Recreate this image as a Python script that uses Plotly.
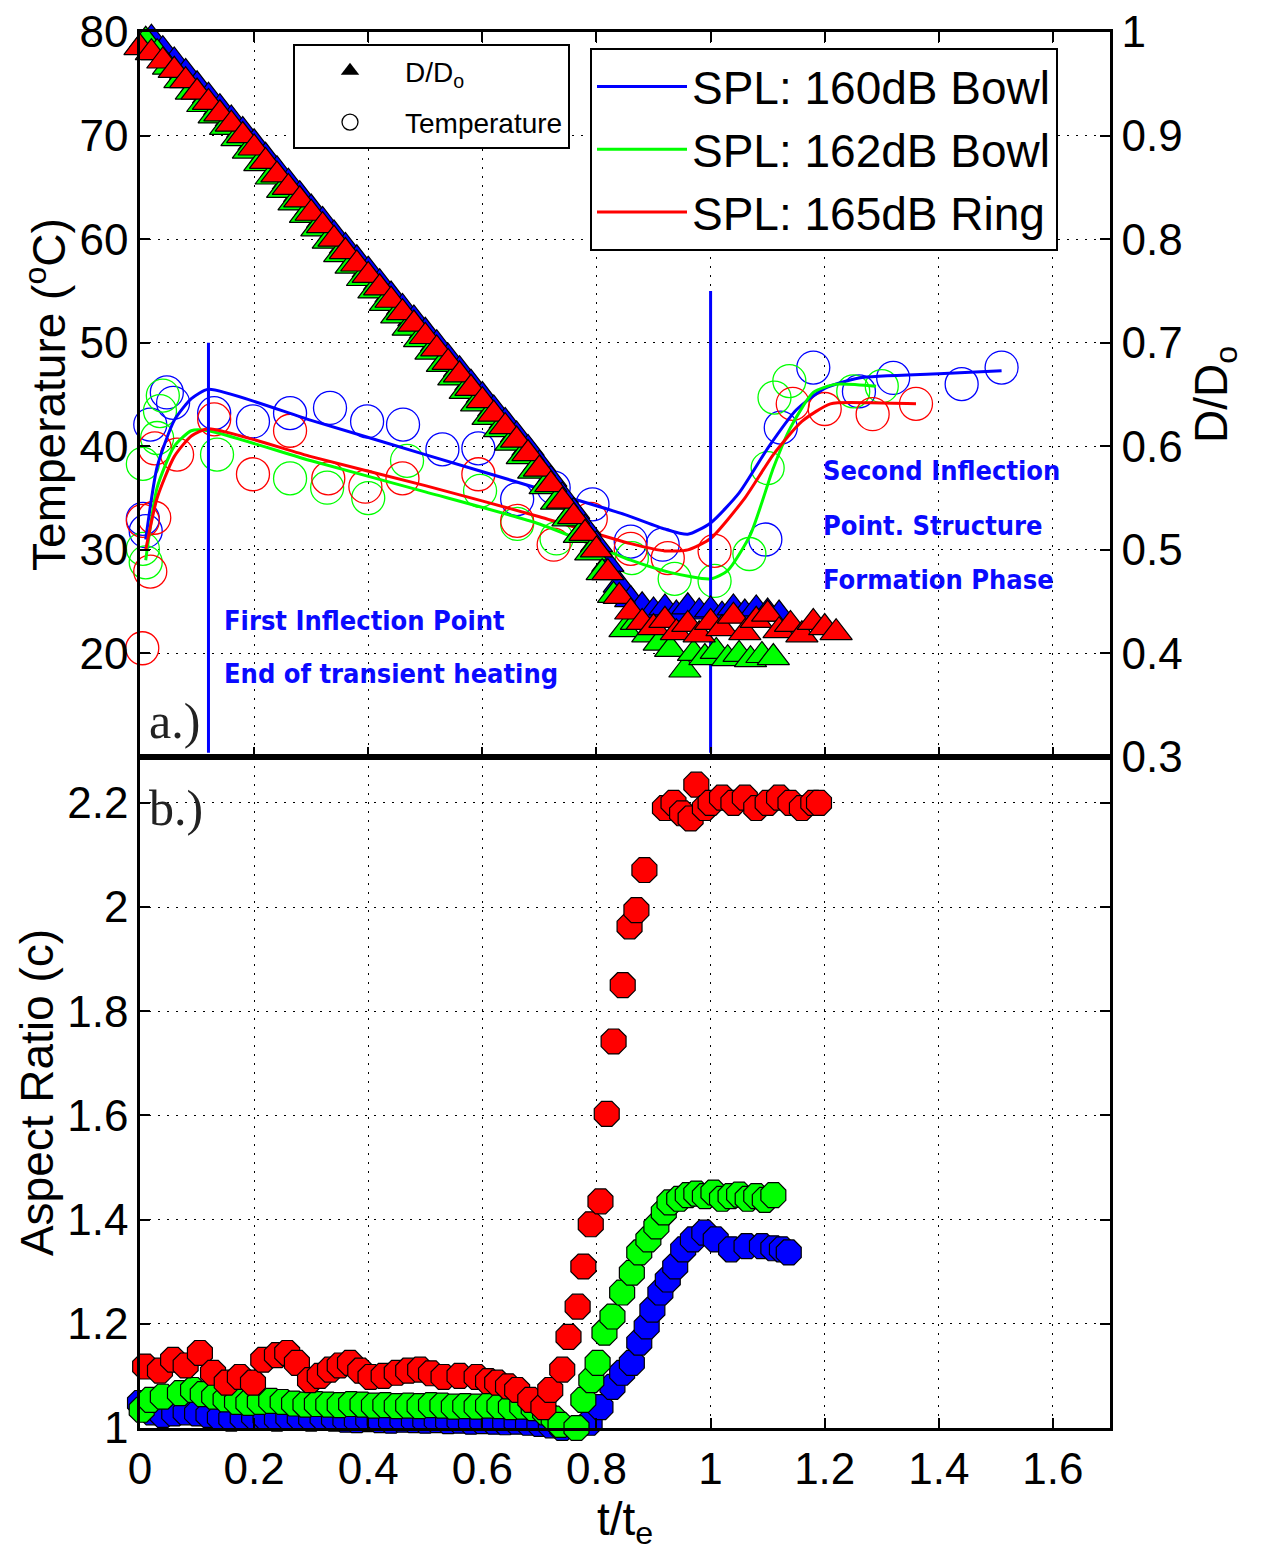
import plotly.graph_objects as go

# ---------------- D/D0 (triangles, right axis of panel a) ----------------
t_tri_blue = [0.00, 0.02, 0.04, 0.06, 0.08, 0.10, 0.12, 0.14, 0.16, 0.18,
              0.20, 0.22, 0.24, 0.26, 0.28, 0.30, 0.32, 0.34, 0.36, 0.38,
              0.40, 0.42, 0.44, 0.46, 0.48, 0.50, 0.52, 0.54, 0.56, 0.58,
              0.60, 0.62, 0.64, 0.66, 0.68, 0.70, 0.72, 0.74, 0.76, 0.78,
              0.80, 0.82, 0.84, 0.86,
              0.88, 0.90, 0.92, 0.94, 0.96, 0.98, 1.00, 1.02, 1.04, 1.06, 1.08, 1.10, 1.12]
d_tri_blue = [1.004, 0.994, 0.983, 0.972, 0.961, 0.949, 0.938, 0.927, 0.916, 0.905,
              0.893, 0.880, 0.867, 0.855, 0.843, 0.830, 0.818, 0.805, 0.793, 0.781,
              0.770, 0.758, 0.746, 0.734, 0.723, 0.711, 0.699, 0.686, 0.674, 0.661,
              0.649, 0.636, 0.624, 0.611, 0.598, 0.583, 0.568, 0.552, 0.537, 0.521,
              0.505, 0.486, 0.466, 0.452,
              0.446, 0.441, 0.444, 0.438, 0.445, 0.440, 0.442, 0.437, 0.444, 0.439, 0.443, 0.440, 0.438]

t_tri_green = [0.01, 0.03, 0.05, 0.07, 0.09, 0.11, 0.13, 0.15, 0.17, 0.19,
               0.21, 0.23, 0.25, 0.27, 0.29, 0.31, 0.33, 0.35, 0.37, 0.39,
               0.41, 0.43, 0.45, 0.47, 0.49, 0.51, 0.53, 0.55, 0.57, 0.59,
               0.61, 0.63, 0.65, 0.67, 0.69, 0.71, 0.73, 0.75, 0.77, 0.79,
               0.81, 0.83, 0.85,
               0.87, 0.89, 0.91, 0.93, 0.955, 0.97, 0.99, 1.01, 1.03, 1.05, 1.07, 1.09, 1.11]
d_tri_green = [0.992, 0.980, 0.966, 0.953, 0.942, 0.930, 0.919, 0.908, 0.897, 0.885,
               0.873, 0.860, 0.847, 0.835, 0.823, 0.810, 0.798, 0.785, 0.774, 0.762,
               0.750, 0.738, 0.726, 0.714, 0.703, 0.691, 0.679, 0.666, 0.653, 0.641,
               0.628, 0.616, 0.603, 0.590, 0.576, 0.561, 0.546, 0.530, 0.514, 0.497,
               0.478, 0.456, 0.423,
               0.430, 0.418, 0.410, 0.404, 0.384, 0.400, 0.396, 0.402, 0.395, 0.399, 0.394, 0.398, 0.396]

t_tri_red = [0.00, 0.02, 0.04, 0.06, 0.08, 0.10, 0.12, 0.14, 0.16, 0.18,
             0.20, 0.22, 0.24, 0.26, 0.28, 0.30, 0.32, 0.34, 0.36, 0.38,
             0.40, 0.42, 0.44, 0.46, 0.48, 0.50, 0.52, 0.54, 0.56, 0.58,
             0.60, 0.62, 0.64, 0.66, 0.68, 0.70, 0.72, 0.74, 0.76, 0.78,
             0.80, 0.82, 0.84, 0.86, 0.88, 0.90, 0.92, 0.94, 0.96, 0.98,
             1.00, 1.02, 1.04, 1.06, 1.08, 1.10, 1.12, 1.14, 1.16, 1.18,
             1.20, 1.22]
d_tri_red = [0.985, 0.980, 0.972, 0.963, 0.953, 0.942, 0.932, 0.921, 0.911, 0.900,
             0.888, 0.875, 0.862, 0.850, 0.838, 0.825, 0.813, 0.800, 0.788, 0.776,
             0.765, 0.753, 0.741, 0.729, 0.718, 0.706, 0.694, 0.681, 0.669, 0.656,
             0.644, 0.631, 0.619, 0.606, 0.593, 0.578, 0.563, 0.547, 0.532, 0.516,
             0.500, 0.478, 0.455, 0.440, 0.430, 0.425, 0.432, 0.420, 0.428, 0.418,
             0.430, 0.424, 0.436, 0.420, 0.432, 0.438, 0.422, 0.428, 0.418, 0.430,
             0.425, 0.420]

# ---------------- Temperature (open circles, left axis of panel a) ----------------
t_temp_blue = [0.005, 0.010, 0.018, 0.047, 0.058, 0.130, 0.198, 0.263, 0.333, 0.398,
               0.461, 0.530, 0.593, 0.661, 0.725, 0.793, 0.860, 0.916, 1.096, 1.123,
               1.180, 1.260, 1.320, 1.440, 1.510]
T_blue = [33.0, 31.8, 42.1, 45.2, 44.2, 43.2, 42.4, 43.2, 43.7, 42.4,
          42.1, 39.7, 39.8, 34.9, 36.0, 34.4, 30.8, 30.5, 31.0, 41.8,
          47.6, 45.3, 46.6, 46.0, 47.6]

t_temp_green = [0.005, 0.005, 0.010, 0.030, 0.035, 0.040, 0.135, 0.263, 0.328, 0.400,
                0.468, 0.596, 0.661, 0.730, 0.862, 0.937, 1.007, 1.068, 1.100, 1.112,
                1.138, 1.250, 1.300]
T_green = [30.1, 38.3, 28.8, 40.8, 43.4, 44.9, 39.2, 36.9, 36.0, 35.0,
           38.6, 35.7, 32.5, 31.1, 29.2, 27.2, 27.0, 29.6, 37.9, 44.7,
           46.3, 45.3, 45.8]

t_temp_red = [0.004, 0.005, 0.018, 0.025, 0.026, 0.065, 0.130, 0.198, 0.263, 0.330,
              0.395, 0.460, 0.593, 0.661, 0.725, 0.790, 0.860, 0.925, 1.007, 1.144,
              1.200, 1.284, 1.360]
T_red = [20.5, 32.8, 27.9, 33.1, 39.8, 39.2, 42.6, 37.3, 41.5, 36.9,
         36.1, 36.9, 37.3, 32.8, 30.5, 33.0, 30.1, 29.2, 29.9, 44.1,
         43.6, 43.1, 44.1]

# ---------------- Temperature trend lines ----------------
t_fit_blue = [0.01, 0.03, 0.06, 0.09, 0.12, 0.30, 0.50, 0.70, 0.85, 0.92,
              0.96, 1.00, 1.05, 1.10, 1.15, 1.20, 1.26, 1.40, 1.51]
T_fit_blue = [31.0, 38.0, 42.5, 44.6, 45.5, 42.5, 39.2, 35.9, 33.4, 32.0,
              31.5, 32.6, 35.5, 39.8, 43.5, 45.6, 46.6, 47.0, 47.3]

t_fit_green = [0.01, 0.03, 0.06, 0.09, 0.12, 0.30, 0.50, 0.70, 0.86, 0.93,
               1.00, 1.03, 1.07, 1.11, 1.14, 1.18, 1.22, 1.29]
T_fit_green = [29.0, 36.0, 40.0, 41.5, 41.5, 38.6, 35.6, 32.5, 29.0, 27.8,
               27.2, 28.0, 31.5, 37.9, 41.8, 45.2, 46.0, 45.8]

t_fit_red = [0.01, 0.03, 0.06, 0.09, 0.12, 0.30, 0.50, 0.70, 0.86, 0.92,
             0.96, 1.00, 1.06, 1.11, 1.16, 1.21, 1.28, 1.36]
T_fit_red = [30.0, 35.0, 39.0, 41.0, 41.7, 39.0, 36.2, 33.2, 30.6, 29.9,
             30.0, 31.1, 35.0, 39.2, 42.4, 44.1, 44.2, 44.1]

# ---------------- Inflection markers ----------------
inflect_t = [0.12, 1.0]
inflect_top = [50.0, 55.0]
inflect_bottom = [10.4, 10.4]

# ---------------- Aspect ratio (panel b) ----------------
t_ar_blue = [0.00, 0.02, 0.04, 0.06, 0.08, 0.10, 0.12, 0.14, 0.16, 0.18,
             0.20, 0.22, 0.24, 0.26, 0.28, 0.30, 0.32, 0.34, 0.36, 0.38,
             0.40, 0.42, 0.44, 0.46, 0.48, 0.50, 0.52, 0.54, 0.56, 0.58,
             0.60, 0.62, 0.64, 0.66, 0.68, 0.70, 0.72, 0.74, 0.76, 0.775,
             0.788, 0.807, 0.828, 0.845, 0.862, 0.875, 0.888, 0.898, 0.912, 0.925,
             0.938, 0.952, 0.969, 0.989, 1.009, 1.036, 1.063, 1.090, 1.110, 1.125, 1.137]
ar_blue = [1.048, 1.030, 1.025, 1.028, 1.030, 1.028, 1.025, 1.020, 1.018, 1.020,
           1.022, 1.020, 1.018, 1.020, 1.020, 1.018, 1.020, 1.018, 1.016, 1.015,
           1.017, 1.015, 1.014, 1.016, 1.015, 1.014, 1.015, 1.013, 1.014, 1.012,
           1.013, 1.012, 1.011, 1.012, 1.010, 1.008, 1.005, 1.000, 0.990, 0.985,
           1.010, 1.040, 1.079, 1.106, 1.125, 1.164, 1.195, 1.227, 1.260, 1.285,
           1.310, 1.343, 1.362, 1.375, 1.362, 1.343, 1.349, 1.349, 1.345, 1.343, 1.337]

t_ar_green = [0.003, 0.018, 0.040, 0.070, 0.093, 0.110, 0.130, 0.150, 0.170, 0.190,
              0.210, 0.230, 0.250, 0.270, 0.290, 0.310, 0.330, 0.350, 0.370, 0.390,
              0.410, 0.430, 0.450, 0.470, 0.490, 0.510, 0.530, 0.550, 0.570, 0.590,
              0.610, 0.630, 0.650, 0.670, 0.690, 0.710, 0.725, 0.737, 0.748, 0.754,
              0.765, 0.777, 0.791, 0.802, 0.814, 0.828, 0.845, 0.862, 0.875, 0.891,
              0.905, 0.918, 0.928, 0.945, 0.960, 0.975, 0.990, 1.005, 1.020, 1.035,
              1.050, 1.065, 1.080, 1.095, 1.110]
ar_green = [1.035, 1.054, 1.060, 1.067, 1.073, 1.065, 1.060, 1.055, 1.050, 1.048,
            1.050, 1.052, 1.050, 1.047, 1.045, 1.046, 1.045, 1.044, 1.046, 1.045,
            1.043, 1.044, 1.042, 1.043, 1.042, 1.044, 1.043, 1.041, 1.042, 1.041,
            1.043, 1.042, 1.040, 1.041, 1.038, 1.030, 1.018, 1.006, 0.990, 0.980,
            1.000, 1.054, 1.092, 1.125, 1.183, 1.214, 1.260, 1.298, 1.337, 1.362,
            1.387, 1.414, 1.433, 1.440, 1.447, 1.450, 1.445, 1.452, 1.440, 1.445,
            1.448, 1.440, 1.445, 1.438, 1.447]

t_ar_red = [0.009, 0.035, 0.058, 0.080, 0.105, 0.128, 0.152, 0.175, 0.198, 0.216,
            0.240, 0.258, 0.275, 0.298, 0.315, 0.333, 0.350, 0.368, 0.386, 0.404,
            0.427, 0.450, 0.470, 0.491, 0.510, 0.532, 0.560, 0.590, 0.610, 0.626,
            0.645, 0.661, 0.684, 0.707, 0.719, 0.740, 0.751, 0.767, 0.777, 0.790,
            0.807, 0.818, 0.830, 0.846, 0.858, 0.870, 0.884,
            0.920, 0.935, 0.950, 0.965, 0.975, 0.990, 1.000, 1.020, 1.040, 1.060,
            1.080, 1.100, 1.120, 1.140, 1.160, 1.180, 1.190]
ar_red = [1.118, 1.110, 1.131, 1.120, 1.144, 1.106, 1.087, 1.098, 1.087, 1.131,
          1.140, 1.144, 1.125, 1.092, 1.100, 1.112, 1.120, 1.125, 1.110, 1.098,
          1.100, 1.106, 1.110, 1.112, 1.105, 1.098, 1.100, 1.098, 1.090, 1.087,
          1.080, 1.073, 1.054, 1.040, 1.073, 1.112, 1.175, 1.233, 1.310, 1.391,
          1.435, 1.603, 1.742, 1.850, 1.963, 1.994, 2.071,
          2.190, 2.200, 2.180, 2.170, 2.235, 2.190, 2.200, 2.210, 2.200, 2.210,
          2.190, 2.200, 2.210, 2.200, 2.190, 2.200, 2.200]

x_ticks = [0, 0.2, 0.4, 0.6, 0.8, 1.0, 1.2, 1.4, 1.6]
temp_ticks = [20, 30, 40, 50, 60, 70, 80]
d_ticks = [0.3, 0.4, 0.5, 0.6, 0.7, 0.8, 0.9, 1.0]
ar_ticks = [1, 1.2, 1.4, 1.6, 1.8, 2.0, 2.2]

series_names = ["SPL: 160dB Bowl", "SPL: 162dB Bowl", "SPL: 165dB Ring"]
BLUE, GREEN, RED = "#0000ff", "#00ff00", "#ff0000"

fig = go.Figure()

# triangles (D/D0)
for tt, dd, col in [(t_tri_blue, d_tri_blue, BLUE), (t_tri_green, d_tri_green, GREEN),
                    (t_tri_red, d_tri_red, RED)]:
    fig.add_trace(go.Scatter(x=tt, y=dd, mode="markers", xaxis="x2", yaxis="y3",
                             marker=dict(symbol="triangle-up", size=28, color=col,
                                         line=dict(color="black", width=1.2)),
                             showlegend=False, cliponaxis=False, hoverinfo="skip"))

# temperature circles
for tt, TT, col in [(t_temp_blue, T_blue, BLUE), (t_temp_green, T_green, GREEN),
                    (t_temp_red, T_red, RED)]:
    fig.add_trace(go.Scatter(x=tt, y=TT, mode="markers", xaxis="x2", yaxis="y2",
                             marker=dict(symbol="circle-open", size=33, color=col,
                                         line=dict(color=col, width=1.3)),
                             showlegend=False, cliponaxis=False))

# trend lines (also legend 2)
for tt, TT, col, nm in [(t_fit_blue, T_fit_blue, BLUE, series_names[0]),
                        (t_fit_green, T_fit_green, GREEN, series_names[1]),
                        (t_fit_red, T_fit_red, RED, series_names[2])]:
    fig.add_trace(go.Scatter(x=tt, y=TT, mode="lines", xaxis="x2", yaxis="y2",
                             line=dict(color=col, width=3, shape="spline", smoothing=0.6),
                             name=nm, legend="legend2"))

# inflection vertical lines
for tv, top, bot in zip(inflect_t, inflect_top, inflect_bottom):
    fig.add_trace(go.Scatter(x=[tv, tv], y=[bot, top], mode="lines", xaxis="x2", yaxis="y2",
                             line=dict(color=BLUE, width=3), showlegend=False))

# legend 1 dummy entries
fig.add_trace(go.Scatter(x=[None], y=[None], mode="markers", xaxis="x2", yaxis="y2",
                         marker=dict(symbol="triangle-up", size=16, color="black"),
                         name="D/D<sub>o</sub>", legend="legend", legendgroup="g1"))
fig.add_trace(go.Scatter(x=[None], y=[None], mode="markers", xaxis="x2", yaxis="y2",
                         marker=dict(symbol="circle-open", size=16, color="black",
                                     line=dict(width=1.3)),
                         name="Temperature", legend="legend", legendgroup="g2"))

# aspect ratio panel
for tt, aa, col in [(t_ar_blue, ar_blue, BLUE), (t_ar_green, ar_green, GREEN),
                    (t_ar_red, ar_red, RED)]:
    fig.add_trace(go.Scatter(x=tt, y=aa, mode="markers", xaxis="x", yaxis="y",
                             marker=dict(symbol="octagon", size=27, color=col,
                                         line=dict(color="black", width=1.2)),
                             showlegend=False, cliponaxis=False))

TICKFONT = dict(family="Liberation Sans, Arial, sans-serif", size=44, color="black")
TITLEFONT = dict(family="Liberation Sans, Arial, sans-serif", size=46, color="black")
GRID = dict(showgrid=True, gridcolor="black", gridwidth=1, griddash="2px,7px")
AX = dict(ticks="inside", ticklen=10, tickwidth=1.5, tickcolor="black",
          showline=True, linecolor="black", linewidth=2.5, zeroline=False,
          automargin=False, ticklabeloverflow="allow")
split = (1428 - 757) / 1396.0

# page body adds an 8px offset, so margins are reduced accordingly
ML, MT = 132, 24
fig.update_layout(
    width=1260, height=1550,
    margin=dict(l=ML, r=158, t=MT, b=130, autoexpand=False),
    paper_bgcolor="white", plot_bgcolor="white",
    font=dict(family="Liberation Sans, Arial, sans-serif", color="black"),
    xaxis=dict(domain=[0, 1], anchor="y", range=[0, 1.7], tickvals=x_ticks, mirror=True,
               tickfont=TICKFONT,
               title=dict(text="t/t<sub>e</sub>", font=TITLEFONT, standoff=4), **GRID, **AX),
    yaxis=dict(domain=[0, split], anchor="x", range=[1, 2.288], tickvals=ar_ticks, mirror="ticks",
               tickfont=TICKFONT,
               title=dict(text="Aspect Ratio (c)", font=TITLEFONT, standoff=0), **GRID, **AX),
    xaxis2=dict(domain=[0, 1], anchor="y2", range=[0, 1.7], tickvals=x_ticks,
                matches="x", showticklabels=False, mirror="ticks", **GRID, **AX),
    yaxis2=dict(domain=[split, 1], anchor="x2", range=[10, 80], tickvals=temp_ticks,
                tickfont=TICKFONT,
                title=dict(text="Temperature (<sup>o</sup>C)", font=TITLEFONT, standoff=0), **GRID, **AX),
    yaxis3=dict(overlaying="y2", anchor="x2", side="right", range=[0.3, 1], tickvals=d_ticks,
                showgrid=False, tickfont=TICKFONT,
                title=dict(text="D/D<sub>o</sub>", font=TITLEFONT, standoff=14), **AX),
    legend=dict(x=(293 - 140) / 970.0, y=(1428 - 44) / 1396.0, xanchor="left", yanchor="top",
                bgcolor="white", bordercolor="black", borderwidth=2,
                font=dict(family="Liberation Sans, Arial, sans-serif", size=28),
                itemwidth=100, tracegroupgap=12),
    legend2=dict(x=(590 - 140) / 970.0, y=(1428 - 48) / 1396.0, xanchor="left", yanchor="top",
                 bgcolor="white", bordercolor="black", borderwidth=2,
                 font=dict(family="Liberation Sans, Arial, sans-serif", size=46),
                 itemwidth=90, tracegroupgap=0),
)

NARROW = "Liberation Sans Narrow, DejaVu Sans Condensed, Arial Narrow, sans-serif"
ANN_FONT = dict(family=NARROW, size=27, color="#0a0aff")
ann_lines_1 = ["First Inflection Point", "End of transient heating"]
ann_y_1 = [23.2, 18.1]
ann_lines_2 = ["Second Inflection", "Point. Structure", "Formation Phase"]
ann_y_2 = [37.7, 32.4, 27.1]
for txt, yy in zip(ann_lines_1, ann_y_1):
    fig.add_annotation(x=0.143, y=yy, xref="x2", yref="y2", xanchor="left", yanchor="middle",
                       text="<b>" + txt + "</b>", showarrow=False, font=ANN_FONT)
for txt, yy in zip(ann_lines_2, ann_y_2):
    fig.add_annotation(x=1.193, y=yy, xref="x2", yref="y2", xanchor="left", yanchor="middle",
                       text="<b>" + txt + "</b>", showarrow=False, font=ANN_FONT)
fig.add_annotation(x=0.012, y=13.5, xref="x2", yref="y2", xanchor="left", yanchor="middle",
                   text="a.)", showarrow=False,
                   font=dict(family="Liberation Serif, Times New Roman, serif", size=50, color="#222"))
fig.add_annotation(x=0.012, y=2.19, xref="x", yref="y", xanchor="left", yanchor="middle",
                   text="b.)", showarrow=False,
                   font=dict(family="Liberation Serif, Times New Roman, serif", size=50, color="#222"))

fig.write_html("out.html")
